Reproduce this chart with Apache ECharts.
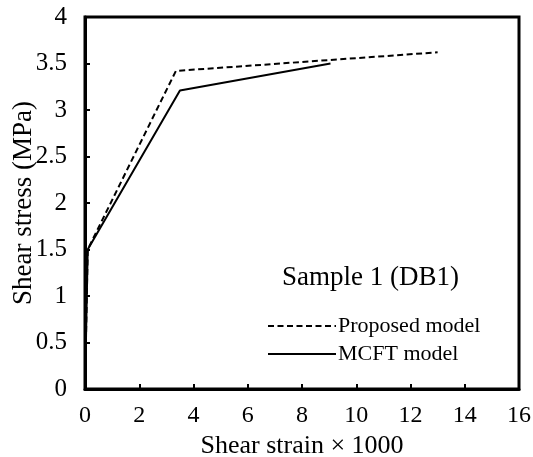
<!DOCTYPE html>
<html lang="en">
<head>
    <meta charset="UTF-8">
    <title>Sample 1 (DB1)</title>
    <script src="https://cdn.jsdelivr.net/npm/echarts@6/dist/echarts.min.js"></script>
    <style>
        html, body { margin: 0; padding: 0; background: #fff; }
        #container { width: 533px; height: 457px; }
    </style>
</head>
<body>
<div id="container"></div>
<script type="text/javascript">
    var font = 'Liberation Serif';

    // strain x 1000, stress MPa
    var proposedStrain = [0, 0.1, 3.35, 13];
    var proposedStress = [0, 1.5, 3.42, 3.62];
    var mcftStrain = [0, 0.1, 3.5, 9.05];
    var mcftStress = [0, 1.5, 3.21, 3.5];

    var pairs = function (xs, ys) {
        return xs.map(function (x, i) { return [x, ys[i]]; });
    };

    var myChart = echarts.init(document.getElementById('container'));

    var option = {
        animation: false,
        textStyle: { fontFamily: font },
        title: {
            text: 'Sample 1 (DB1)',
            left: 282,
            top: 264,
            padding: 0,
            textStyle: { fontFamily: font, fontSize: 27, fontWeight: 'normal', color: '#000' }
        },
        legend: {
            orient: 'vertical',
            left: 267,
            top: 315,
            padding: 0,
            itemWidth: 68,
            itemHeight: 10,
            itemGap: 6,
            itemStyle: { opacity: 0 },
            textStyle: { fontFamily: font, fontSize: 22, color: '#000', padding: [0, 0, 0, -3] },
            data: ['Proposed model', 'MCFT model']
        },
        grid: {
            left: 85,
            right: 14,
            top: 17,
            bottom: 68,
            outerBoundsMode: 'none',
            show: true,
            borderColor: '#000',
            borderWidth: 3
        },
        xAxis: {
            type: 'value',
            min: 0,
            max: 16,
            interval: 2,
            name: 'Shear strain \u00d7 1000',
            nameLocation: 'middle',
            nameGap: 38,
            nameTextStyle: { fontFamily: font, fontSize: 26, color: '#000' },
            axisLine: { lineStyle: { color: '#000', width: 3 } },
            axisTick: { inside: true, length: 5, lineStyle: { color: '#000', width: 2 } },
            axisLabel: { margin: 15, fontFamily: font, fontSize: 24, color: '#000', hideOverlap: false },
            splitLine: { show: false }
        },
        yAxis: {
            type: 'value',
            min: 0,
            max: 4,
            interval: 0.5,
            name: 'Shear stress (MPa)',
            nameLocation: 'middle',
            nameGap: 48,
            nameMoveOverlap: false,
            nameTextStyle: { fontFamily: font, fontSize: 27, color: '#000' },
            axisLine: { lineStyle: { color: '#000', width: 3 } },
            axisTick: { inside: true, length: 5, lineStyle: { color: '#000', width: 2 } },
            axisLabel: { margin: 18, fontFamily: font, fontSize: 25, color: '#000' },
            splitLine: { show: false }
        },
        series: [
            {
                name: 'Proposed model',
                type: 'line',
                symbol: 'none',
                color: '#000',
                lineStyle: { color: '#000', width: 2, type: [6, 3.5] },
                data: pairs(proposedStrain, proposedStress)
            },
            {
                name: 'MCFT model',
                type: 'line',
                symbol: 'none',
                color: '#000',
                lineStyle: { color: '#000', width: 2, type: 'solid' },
                data: pairs(mcftStrain, mcftStress)
            }
        ]
    };

    myChart.setOption(option, true);
</script>
</body>
</html>
